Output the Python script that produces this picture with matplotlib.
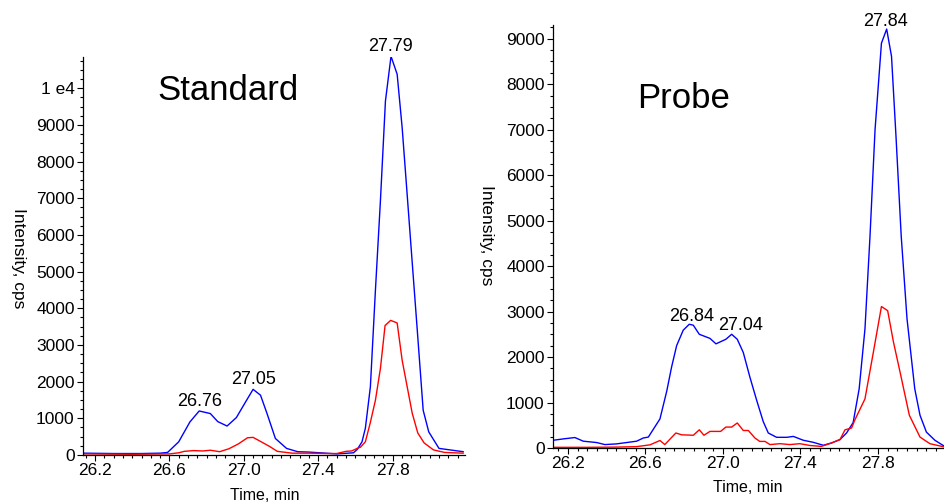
import matplotlib
matplotlib.use("Agg")
import matplotlib.pyplot as plt
from matplotlib.ticker import MultipleLocator, FuncFormatter

plt.rcParams["font.family"] = ["Liberation Sans", "DejaVu Sans"]

# Standard chromatogram
std_blue_t = [26.14, 26.30, 26.45, 26.55, 26.59, 26.65, 26.71, 26.76, 26.82, 26.86,
              26.91, 26.96, 27.01, 27.05, 27.09, 27.125, 27.17, 27.23, 27.29, 27.35,
              27.41, 27.50, 27.59, 27.61, 27.636, 27.654, 27.681, 27.708, 27.735, 27.762,
              27.792, 27.825, 27.852, 27.879, 27.906, 27.933, 27.965, 27.995, 28.05, 28.18]
std_blue_v = [50, 40, 40, 50, 70, 360, 900, 1200, 1130, 910,
              790, 1020, 1450, 1790, 1630, 1130, 450, 180, 90, 80,
              60, 30, 60, 150, 360, 730, 1860, 4480, 6930, 9650,
              10870, 10380, 8920, 7090, 5250, 3420, 1220, 630, 180, 90]

std_red_t = [26.14, 26.40, 26.60, 26.65, 26.68, 26.73, 26.78, 26.82, 26.87, 26.92,
             26.97, 27.02, 27.05, 27.09, 27.14, 27.18, 27.26, 27.35, 27.45, 27.50,
             27.55, 27.58, 27.61, 27.627, 27.654, 27.68, 27.708, 27.735, 27.76, 27.79,
             27.825, 27.852, 27.879, 27.906, 27.936, 27.97, 28.02, 28.08, 28.18]
std_red_v = [30, 20, 30, 60, 100, 120, 110, 130, 90, 170,
             300, 470, 480, 370, 230, 100, 50, 50, 40, 40,
             100, 110, 180, 210, 360, 870, 1490, 2360, 3530, 3670,
             3600, 2580, 1860, 1140, 600, 330, 140, 70, 50]

# Probe chromatogram
prb_blue_t = [26.124, 26.176, 26.236, 26.279, 26.348, 26.391, 26.45, 26.503, 26.555, 26.589,
              26.615, 26.675, 26.71, 26.735, 26.761, 26.795, 26.826, 26.847, 26.878, 26.933,
              26.964, 27.015, 27.045, 27.074, 27.105, 27.139, 27.174, 27.208, 27.234, 27.277,
              27.33, 27.363, 27.415, 27.466, 27.518, 27.56, 27.604, 27.638, 27.672, 27.703,
              27.733, 27.759, 27.785, 27.818, 27.845, 27.87, 27.893, 27.92, 27.95, 27.99,
              28.017, 28.05, 28.094, 28.146]
prb_blue_v = [170, 200, 230, 150, 120, 75, 90, 120, 150, 220,
              240, 640, 1250, 1780, 2250, 2590, 2720, 2700, 2500, 2410,
              2290, 2390, 2500, 2390, 2100, 1560, 1050, 580, 330, 235,
              235, 255, 170, 125, 60, 110, 185, 330, 560, 1300,
              2620, 4660, 7000, 8900, 9210, 8610, 6860, 4660, 2840, 1300,
              720, 350, 170, 30]

prb_red_t = [26.124, 26.30, 26.45, 26.555, 26.624, 26.675, 26.70, 26.757, 26.787, 26.847,
             26.878, 26.902, 26.933, 26.988, 27.015, 27.045, 27.074, 27.105, 27.131, 27.165,
             27.19, 27.217, 27.243, 27.295, 27.345, 27.397, 27.45, 27.508, 27.56, 27.604,
             27.63, 27.664, 27.68, 27.733, 27.776, 27.818, 27.85, 27.88, 27.914, 27.962,
             28.017, 28.068, 28.146]
prb_red_v = [15, 15, 20, 30, 70, 165, 75, 330, 290, 280,
             400, 280, 365, 365, 460, 460, 550, 385, 385, 220,
             145, 145, 75, 95, 75, 95, 55, 35, 110, 185,
             400, 440, 610, 1080, 2100, 3110, 3020, 2330, 1670, 720,
             240, 95, 20]

std_peaks = [26.76, 27.05, 27.79]
prb_peaks = [26.84, 27.04, 27.84]

W, H = 945, 504
fig = plt.figure(figsize=(W / 100, H / 100), dpi=100)


def fmt_y(v, pos):
    if v == 10000:
        return "1 e4"
    return "%d" % v


def setup(ax, xlim, ylim):
    ax.set_xlim(*xlim)
    ax.set_ylim(*ylim)
    for s in ["top", "right"]:
        ax.spines[s].set_visible(False)
    for s in ["left", "bottom"]:
        ax.spines[s].set_linewidth(0.9)
    ax.xaxis.set_major_locator(MultipleLocator(0.4, offset=0.2))
    ax.xaxis.set_minor_locator(MultipleLocator(0.05))
    ax.xaxis.set_major_formatter(FuncFormatter(lambda v, p: "%.1f" % v))
    ax.yaxis.set_major_locator(MultipleLocator(1000))
    ax.yaxis.set_minor_locator(MultipleLocator(250))
    ax.yaxis.set_major_formatter(FuncFormatter(fmt_y))
    ax.tick_params(which="major", direction="out", length=4, width=0.8, labelsize=12.5, pad=2)
    ax.tick_params(which="minor", direction="out", length=2, width=0.8)


def nearest(ts, vs, t):
    i = min(range(len(ts)), key=lambda k: abs(ts[k] - t))
    return vs[i]


# left panel
ax1 = fig.add_axes([83 / W, 1 - 455 / H, 382 / W, 398 / H])
ax1.plot(std_blue_t, std_blue_v, color="#0000ff", lw=1.0)
ax1.plot(std_red_t, std_red_v, color="#ff0000", lw=1.0)
setup(ax1, (26.135, 28.19), (0, 10850))
for t in std_peaks:
    ax1.annotate("%.2f" % t, (t, nearest(std_blue_t, std_blue_v, t)), xytext=(0, 1),
                 textcoords="offset points", ha="center", va="bottom", fontsize=13,
                 annotation_clip=False)

# right panel
ax2 = fig.add_axes([553 / W, 1 - 448 / H, 392 / W, 423 / H])
ax2.plot(prb_blue_t, prb_blue_v, color="#0000ff", lw=1.0)
ax2.plot(prb_red_t, prb_red_v, color="#ff0000", lw=1.0)
setup(ax2, (26.123, 28.146), (0, 9300))
offsets = {26.84: (0, 0), 27.04: (7, 0), 27.84: (0, -1)}
for t in prb_peaks:
    ax2.annotate("%.2f" % t, (t, nearest(prb_blue_t, prb_blue_v, t)), xytext=offsets[t],
                 textcoords="offset points", ha="center", va="bottom", fontsize=13,
                 annotation_clip=False)

fig.text(228 / W, 1 - 90 / H, "Standard", fontsize=25, ha="center", va="center")
fig.text(684 / W, 1 - 98 / H, "Probe", fontsize=25, ha="center", va="center")

fig.text(18 / W, 1 - 258 / H, "Intensity, cps", rotation=270, fontsize=12.5, ha="center", va="center")
fig.text(487 / W, 1 - 235 / H, "Intensity, cps", rotation=270, fontsize=12.5, ha="center", va="center")
fig.text(265 / W, 1 - 496 / H, "Time, min", fontsize=11.5, ha="center", va="center")
fig.text(748 / W, 1 - 487 / H, "Time, min", fontsize=11.5, ha="center", va="center")

fig.savefig("out.png", dpi=100)
